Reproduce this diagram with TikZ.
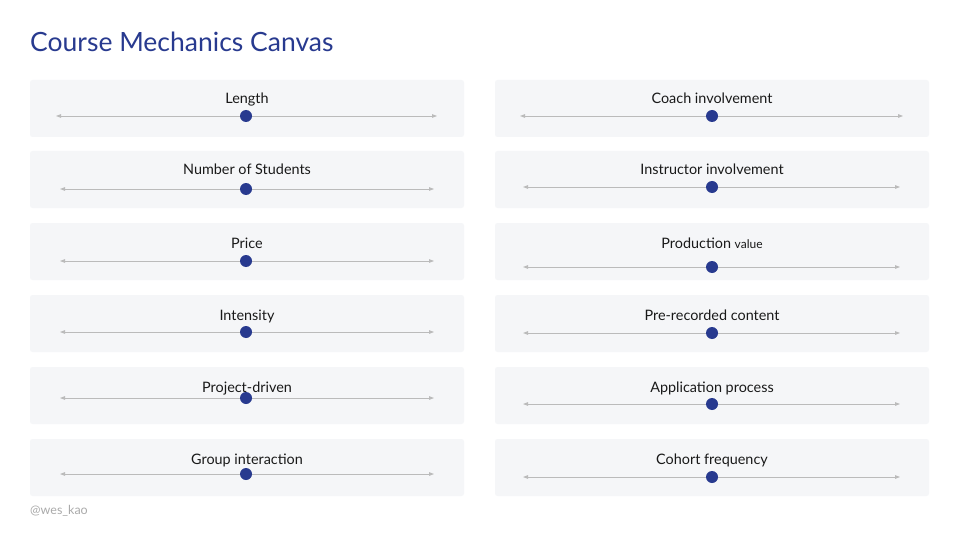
\documentclass[tikz,border=0pt]{standalone}
\usepackage{fontspec}
\setmainfont{Lato}
\usetikzlibrary{arrows.meta}
\definecolor{panelbg}{HTML}{F5F6F8}
\definecolor{navy}{HTML}{283A8F}
\definecolor{axisgray}{HTML}{BBBBBB}
\definecolor{footgray}{HTML}{AAAAAA}
\tikzset{
  panel/.style={fill=panelbg, draw=none, rounded corners=2.5pt, minimum width=434pt, minimum height=57pt, inner sep=0pt},
  lab/.style={anchor=base, inner sep=0pt, font=\fontsize{14.4}{16}\selectfont, text=black!90},
  axis/.style={draw=axisgray, line width=0.9pt, {Triangle[length=5pt,width=3.6pt,fill=axisgray]}-{Triangle[length=5pt,width=3.6pt,fill=axisgray]}},
  knob/.style={circle, fill=navy, minimum size=12pt, inner sep=0pt},
}
\begin{document}
\begin{tikzpicture}[x=1pt,y=-1pt]
\useasboundingbox (0,0) rectangle (960,540);
\fill[white] (0,0) rectangle (960,540);
\node[anchor=base west, inner sep=0pt, text=navy, font=\fontsize{26.5}{30}\selectfont] (title) at (30,52) {Course Mechanics Canvas};
% left column
\foreach \n/\txt/\top/\ly/\yl/\xa/\xb in {
  l1/Length/80/98/116/56/437,
  l2/Number of Students/151/169/189/60/434,
  l3/Price/223/242/261/60/434,
  l4/Intensity/295/314/332/60/434,
  l5/Project-driven/367/386/398/60/434,
  l6/Group interaction/439/458/474/60/434}{
  \node[panel] (p\n) at (247,\top+28.5) {};
  \node[lab] (t\n) at (247,\ly+6) {\txt};
  \coordinate (a\n) at (\xa,\yl);
  \coordinate (b\n) at (\xb,\yl);
  \draw[axis] (a\n) -- (b\n);
  \node[knob] (d\n) at (246,\yl) {};
}
% right column
\foreach \n/\txt/\top/\ly/\yl/\xa/\xb in {
  r1/Coach involvement/80/98/116/520/903,
  r2/Instructor involvement/151/169/187/523/900,
  r3/{Production {\fontsize{12}{14}\selectfont value}}/223/242/267/523/900,
  r4/Pre-recorded content/295/314/333/523/900,
  r5/Application process/367/386/404/523/900,
  r6/Cohort frequency/439/458/477/523/900}{
  \node[panel] (p\n) at (712,\top+28.5) {};
  \node[lab] (t\n) at (712,\ly+6) {\txt};
  \coordinate (a\n) at (\xa,\yl);
  \coordinate (b\n) at (\xb,\yl);
  \draw[axis] (a\n) -- (b\n);
  \node[knob] (d\n) at (712,\yl) {};
}
\node[anchor=base west, inner sep=0pt, text=footgray, font=\fontsize{12.5}{14}\selectfont] (foot) at (30,514) {@wes\_kao};
\end{tikzpicture}
\end{document}
